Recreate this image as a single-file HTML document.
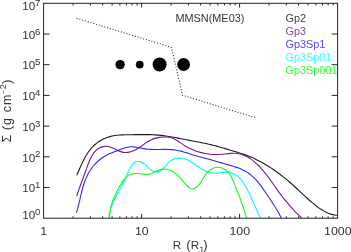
<!DOCTYPE html>
<html><head><meta charset="utf-8"><title>Surface density</title>
<style>html,body{margin:0;padding:0;background:#fff;}svg{display:block;}text{font-family:"Liberation Sans",sans-serif;}</style></head><body>
<svg width="351" height="252" viewBox="0 0 351 252">
<rect width="351" height="252" fill="#fff"/>
<defs><clipPath id="c"><rect x="43.60" y="3.30" width="294.00" height="214.90"/></clipPath></defs>
<g clip-path="url(#c)" fill="none" stroke-width="1.1" stroke-linejoin="round">
<path d="M76.71 175.37 C76.89 174.95 77.44 173.69 77.81 172.82 C78.19 171.96 78.56 171.07 78.95 170.17 C79.34 169.28 79.73 168.37 80.13 167.46 C80.53 166.55 80.94 165.62 81.36 164.70 C81.79 163.78 82.22 162.85 82.67 161.93 C83.12 161.01 83.58 160.09 84.07 159.18 C84.55 158.27 85.05 157.36 85.56 156.47 C86.08 155.57 86.62 154.69 87.18 153.82 C87.74 152.96 88.32 152.11 88.92 151.28 C89.53 150.45 90.16 149.64 90.81 148.86 C91.46 148.08 92.14 147.31 92.85 146.59 C93.55 145.86 94.28 145.16 95.03 144.50 C95.78 143.84 96.56 143.21 97.37 142.62 C98.17 142.02 98.99 141.47 99.84 140.95 C100.68 140.43 101.55 139.94 102.43 139.49 C103.31 139.04 104.21 138.62 105.12 138.24 C106.03 137.86 106.95 137.51 107.89 137.20 C108.82 136.89 109.77 136.61 110.72 136.37 C111.67 136.13 112.63 135.92 113.60 135.74 C114.56 135.57 115.53 135.43 116.50 135.31 C117.47 135.20 118.45 135.12 119.42 135.05 C120.40 134.98 121.38 134.94 122.36 134.90 C123.35 134.86 124.33 134.84 125.32 134.82 C126.31 134.80 127.30 134.78 128.30 134.77 C129.29 134.75 130.29 134.73 131.28 134.72 C132.28 134.70 133.28 134.69 134.28 134.67 C135.28 134.66 136.28 134.65 137.29 134.64 C138.29 134.63 139.30 134.62 140.30 134.61 C141.31 134.60 142.31 134.60 143.32 134.60 C144.33 134.60 145.34 134.60 146.35 134.61 C147.35 134.63 148.36 134.64 149.37 134.67 C150.38 134.69 151.39 134.73 152.40 134.77 C153.40 134.81 154.41 134.86 155.42 134.92 C156.43 134.98 157.43 135.05 158.44 135.14 C159.44 135.22 160.45 135.31 161.45 135.42 C162.45 135.52 163.46 135.64 164.46 135.77 C165.46 135.90 166.46 136.04 167.45 136.19 C168.45 136.35 169.45 136.51 170.44 136.69 C171.44 136.86 172.43 137.04 173.42 137.23 C174.41 137.41 175.40 137.60 176.39 137.80 C177.38 137.99 178.37 138.19 179.35 138.39 C180.34 138.58 181.33 138.78 182.31 138.98 C183.29 139.17 184.28 139.36 185.26 139.55 C186.24 139.74 187.22 139.93 188.20 140.12 C189.18 140.30 190.16 140.48 191.13 140.67 C192.11 140.85 193.09 141.03 194.06 141.22 C195.04 141.40 196.01 141.58 196.98 141.77 C197.96 141.96 198.93 142.14 199.90 142.33 C200.87 142.53 201.84 142.72 202.81 142.92 C203.78 143.12 204.75 143.32 205.72 143.53 C206.69 143.73 207.66 143.95 208.62 144.17 C209.59 144.39 210.56 144.62 211.52 144.85 C212.49 145.09 213.45 145.33 214.42 145.58 C215.38 145.84 216.35 146.10 217.31 146.37 C218.27 146.64 219.24 146.92 220.20 147.20 C221.16 147.47 222.12 147.76 223.08 148.04 C224.05 148.33 225.01 148.62 225.97 148.90 C226.93 149.18 227.89 149.46 228.85 149.74 C229.81 150.02 230.77 150.30 231.73 150.58 C232.69 150.86 233.64 151.13 234.60 151.42 C235.56 151.70 236.51 151.98 237.46 152.27 C238.42 152.56 239.37 152.86 240.31 153.16 C241.26 153.47 242.21 153.78 243.15 154.11 C244.09 154.43 245.03 154.77 245.97 155.12 C246.91 155.47 247.84 155.83 248.77 156.20 C249.70 156.58 250.63 156.97 251.55 157.37 C252.47 157.77 253.39 158.19 254.30 158.61 C255.21 159.04 256.12 159.48 257.02 159.92 C257.92 160.37 258.82 160.83 259.71 161.30 C260.60 161.77 261.49 162.25 262.37 162.74 C263.25 163.23 264.12 163.73 264.99 164.24 C265.85 164.74 266.71 165.26 267.56 165.79 C268.42 166.31 269.26 166.84 270.10 167.39 C270.95 167.93 271.78 168.48 272.61 169.04 C273.44 169.59 274.26 170.16 275.07 170.73 C275.89 171.30 276.70 171.88 277.50 172.47 C278.31 173.06 279.11 173.65 279.90 174.25 C280.70 174.85 281.48 175.46 282.27 176.08 C283.05 176.69 283.83 177.31 284.61 177.94 C285.38 178.57 286.15 179.20 286.91 179.84 C287.68 180.48 288.44 181.12 289.19 181.77 C289.95 182.42 290.70 183.07 291.45 183.73 C292.20 184.39 292.94 185.06 293.68 185.73 C294.42 186.40 295.16 187.07 295.89 187.75 C296.62 188.43 297.35 189.11 298.08 189.79 C298.81 190.48 299.54 191.16 300.27 191.85 C301.00 192.53 301.73 193.22 302.46 193.91 C303.19 194.59 303.92 195.27 304.65 195.96 C305.39 196.64 306.12 197.32 306.87 197.99 C307.61 198.66 308.35 199.33 309.10 200.00 C309.85 200.66 310.61 201.32 311.37 201.97 C312.14 202.62 312.90 203.27 313.68 203.91 C314.46 204.54 315.24 205.17 316.04 205.79 C316.83 206.40 317.64 207.01 318.45 207.60 C319.27 208.18 320.09 208.76 320.93 209.30 C321.77 209.85 322.62 210.37 323.48 210.87 C324.35 211.36 325.22 211.83 326.12 212.26 C327.01 212.68 327.91 213.08 328.84 213.43 C329.76 213.79 330.70 214.10 331.65 214.37 C332.61 214.63 333.60 214.85 334.57 215.02 C335.55 215.18 337.01 215.29 337.50 215.34" stroke="#1c1c1c"/>
<path d="M76.71 196.14 C76.86 195.67 77.31 194.23 77.63 193.28 C77.94 192.33 78.26 191.39 78.58 190.44 C78.91 189.50 79.24 188.55 79.58 187.61 C79.91 186.67 80.26 185.73 80.60 184.79 C80.94 183.85 81.29 182.91 81.64 181.98 C81.98 181.04 82.33 180.10 82.68 179.16 C83.03 178.23 83.38 177.29 83.73 176.36 C84.07 175.42 84.42 174.48 84.76 173.55 C85.10 172.61 85.44 171.67 85.77 170.73 C86.11 169.79 86.43 168.85 86.77 167.91 C87.10 166.97 87.43 166.03 87.77 165.10 C88.12 164.16 88.47 163.23 88.85 162.30 C89.22 161.37 89.61 160.45 90.03 159.54 C90.46 158.62 90.90 157.71 91.39 156.82 C91.88 155.93 92.39 155.02 92.96 154.17 C93.53 153.31 94.14 152.45 94.80 151.69 C95.47 150.92 96.19 150.21 96.96 149.59 C97.72 148.97 98.55 148.42 99.40 147.97 C100.25 147.53 101.15 147.16 102.07 146.89 C102.98 146.62 103.93 146.44 104.88 146.37 C105.83 146.29 106.81 146.31 107.78 146.44 C108.74 146.58 109.72 146.83 110.68 147.15 C111.65 147.47 112.61 147.92 113.57 148.36 C114.52 148.80 115.48 149.32 116.43 149.78 C117.39 150.24 118.34 150.74 119.29 151.13 C120.24 151.52 121.19 151.88 122.14 152.11 C123.09 152.34 124.04 152.47 124.99 152.52 C125.94 152.56 126.88 152.51 127.83 152.38 C128.77 152.26 129.71 152.05 130.63 151.78 C131.56 151.51 132.49 151.17 133.40 150.78 C134.32 150.40 135.23 149.95 136.12 149.47 C137.01 148.99 137.90 148.45 138.77 147.90 C139.64 147.36 140.49 146.76 141.34 146.18 C142.19 145.59 143.03 144.97 143.86 144.38 C144.70 143.78 145.53 143.18 146.36 142.61 C147.20 142.05 148.03 141.49 148.88 140.99 C149.73 140.50 150.58 140.03 151.46 139.63 C152.33 139.23 153.21 138.90 154.12 138.61 C155.03 138.32 155.95 138.10 156.91 137.89 C157.87 137.68 158.86 137.50 159.86 137.36 C160.86 137.22 161.89 137.09 162.92 137.03 C163.94 136.97 164.99 136.94 166.01 136.98 C167.03 137.02 168.05 137.11 169.04 137.29 C170.03 137.47 170.99 137.72 171.93 138.04 C172.86 138.37 173.76 138.78 174.65 139.23 C175.53 139.68 176.39 140.20 177.25 140.72 C178.10 141.25 178.94 141.83 179.78 142.39 C180.62 142.96 181.45 143.55 182.29 144.11 C183.14 144.67 183.98 145.22 184.84 145.75 C185.71 146.27 186.58 146.77 187.45 147.25 C188.33 147.72 189.22 148.18 190.12 148.61 C191.01 149.04 191.92 149.44 192.83 149.83 C193.74 150.21 194.67 150.57 195.59 150.91 C196.52 151.24 197.46 151.56 198.40 151.84 C199.34 152.13 200.29 152.40 201.25 152.64 C202.20 152.89 203.17 153.11 204.13 153.30 C205.10 153.50 206.08 153.67 207.05 153.82 C208.03 153.97 209.02 154.09 210.01 154.19 C211.00 154.29 211.99 154.37 212.99 154.43 C213.98 154.48 214.99 154.51 215.99 154.52 C217.00 154.52 218.01 154.51 219.02 154.47 C220.03 154.43 221.05 154.36 222.06 154.27 C223.08 154.19 224.10 154.08 225.12 153.97 C226.14 153.87 227.16 153.75 228.17 153.65 C229.19 153.55 230.20 153.46 231.21 153.40 C232.21 153.34 233.22 153.30 234.21 153.31 C235.21 153.32 236.20 153.36 237.17 153.48 C238.15 153.59 239.12 153.76 240.08 153.99 C241.03 154.22 241.98 154.53 242.91 154.87 C243.83 155.22 244.75 155.63 245.65 156.07 C246.55 156.51 247.43 157.01 248.29 157.52 C249.15 158.03 250.00 158.58 250.82 159.15 C251.64 159.72 252.44 160.31 253.22 160.92 C254.01 161.53 254.77 162.17 255.52 162.82 C256.27 163.47 257.00 164.14 257.71 164.82 C258.43 165.51 259.13 166.21 259.81 166.93 C260.50 167.64 261.17 168.38 261.83 169.12 C262.50 169.87 263.14 170.62 263.78 171.39 C264.42 172.16 265.05 172.94 265.67 173.73 C266.29 174.51 266.90 175.31 267.51 176.11 C268.12 176.91 268.71 177.73 269.31 178.54 C269.90 179.35 270.49 180.17 271.08 181.00 C271.66 181.82 272.24 182.64 272.82 183.47 C273.40 184.30 273.98 185.12 274.56 185.95 C275.14 186.78 275.72 187.60 276.30 188.42 C276.88 189.24 277.46 190.06 278.05 190.88 C278.63 191.69 279.22 192.50 279.82 193.30 C280.41 194.11 281.01 194.90 281.61 195.70 C282.21 196.49 282.82 197.28 283.43 198.06 C284.05 198.84 284.67 199.62 285.29 200.39 C285.91 201.16 286.54 201.92 287.18 202.68 C287.82 203.44 288.46 204.20 289.11 204.95 C289.76 205.70 290.42 206.44 291.08 207.18 C291.75 207.92 292.42 208.65 293.10 209.38 C293.78 210.11 294.46 210.83 295.16 211.55 C295.86 212.27 296.56 212.98 297.28 213.69 C297.99 214.40 298.71 215.10 299.45 215.80 C300.18 216.50 301.28 217.51 301.67 217.88 C302.06 218.24 301.76 217.96 301.78 217.97" stroke="#701c8e"/>
<path d="M76.38 212.85 C76.52 212.39 76.97 211.01 77.25 210.07 C77.53 209.13 77.79 208.18 78.04 207.22 C78.29 206.27 78.53 205.30 78.77 204.33 C79.00 203.37 79.23 202.39 79.46 201.41 C79.68 200.43 79.90 199.45 80.13 198.46 C80.35 197.48 80.57 196.49 80.80 195.50 C81.03 194.52 81.26 193.53 81.50 192.54 C81.74 191.56 81.98 190.58 82.24 189.60 C82.50 188.62 82.77 187.64 83.06 186.67 C83.34 185.70 83.64 184.74 83.96 183.78 C84.28 182.83 84.61 181.88 84.96 180.94 C85.32 180.00 85.69 179.07 86.08 178.15 C86.48 177.23 86.89 176.32 87.33 175.43 C87.76 174.54 88.22 173.66 88.70 172.80 C89.19 171.93 89.69 171.08 90.23 170.25 C90.76 169.42 91.32 168.60 91.91 167.81 C92.49 167.01 93.11 166.24 93.75 165.48 C94.39 164.73 95.07 163.99 95.76 163.28 C96.46 162.57 97.18 161.88 97.92 161.22 C98.67 160.56 99.43 159.92 100.22 159.30 C101.01 158.69 101.81 158.10 102.64 157.54 C103.46 156.99 104.31 156.45 105.16 155.95 C106.02 155.45 106.90 154.98 107.78 154.54 C108.67 154.10 109.57 153.69 110.48 153.30 C111.39 152.91 112.31 152.55 113.23 152.19 C114.16 151.83 115.10 151.48 116.04 151.12 C116.98 150.77 117.93 150.40 118.88 150.03 C119.83 149.67 120.78 149.28 121.74 148.93 C122.70 148.58 123.66 148.23 124.62 147.94 C125.59 147.65 126.56 147.38 127.53 147.20 C128.50 147.01 129.47 146.87 130.45 146.82 C131.43 146.77 132.41 146.81 133.39 146.89 C134.37 146.97 135.35 147.13 136.34 147.29 C137.32 147.46 138.31 147.67 139.30 147.86 C140.29 148.04 141.28 148.24 142.27 148.41 C143.27 148.59 144.26 148.75 145.25 148.88 C146.25 149.02 147.24 149.12 148.24 149.21 C149.24 149.29 150.23 149.35 151.23 149.39 C152.23 149.43 153.22 149.45 154.22 149.47 C155.22 149.48 156.21 149.48 157.21 149.48 C158.21 149.47 159.20 149.46 160.20 149.45 C161.19 149.44 162.19 149.42 163.18 149.42 C164.18 149.41 165.17 149.41 166.16 149.42 C167.15 149.43 168.14 149.45 169.13 149.49 C170.12 149.53 171.11 149.58 172.09 149.66 C173.07 149.74 174.06 149.84 175.04 149.97 C176.02 150.11 176.99 150.27 177.97 150.46 C178.94 150.65 179.92 150.88 180.89 151.12 C181.86 151.36 182.83 151.64 183.79 151.92 C184.76 152.20 185.72 152.50 186.69 152.81 C187.65 153.11 188.61 153.43 189.57 153.75 C190.54 154.06 191.49 154.38 192.45 154.69 C193.41 155.00 194.37 155.30 195.33 155.59 C196.29 155.88 197.25 156.15 198.21 156.42 C199.17 156.68 200.13 156.93 201.09 157.18 C202.05 157.43 203.01 157.66 203.97 157.91 C204.93 158.16 205.89 158.40 206.85 158.66 C207.82 158.91 208.78 159.18 209.75 159.45 C210.72 159.73 211.69 160.02 212.66 160.30 C213.63 160.59 214.60 160.88 215.57 161.16 C216.55 161.45 217.53 161.73 218.50 162.01 C219.48 162.29 220.46 162.57 221.44 162.85 C222.41 163.13 223.39 163.41 224.36 163.69 C225.34 163.96 226.31 164.24 227.27 164.53 C228.24 164.81 229.21 165.09 230.16 165.38 C231.12 165.66 232.08 165.95 233.02 166.24 C233.97 166.53 234.91 166.83 235.84 167.13 C236.77 167.44 237.69 167.75 238.61 168.09 C239.52 168.43 240.42 168.78 241.32 169.16 C242.21 169.55 243.09 169.96 243.96 170.42 C244.83 170.87 245.69 171.36 246.53 171.89 C247.37 172.41 248.20 172.97 249.01 173.56 C249.82 174.15 250.61 174.77 251.39 175.42 C252.16 176.06 252.91 176.74 253.65 177.43 C254.38 178.12 255.09 178.84 255.78 179.58 C256.47 180.31 257.14 181.07 257.79 181.84 C258.44 182.61 259.06 183.40 259.68 184.19 C260.30 184.99 260.89 185.80 261.48 186.61 C262.08 187.43 262.65 188.25 263.22 189.08 C263.80 189.91 264.36 190.74 264.92 191.57 C265.48 192.40 266.03 193.23 266.59 194.06 C267.15 194.89 267.70 195.71 268.26 196.53 C268.81 197.36 269.37 198.18 269.92 199.00 C270.47 199.82 271.02 200.63 271.57 201.46 C272.11 202.28 272.66 203.10 273.19 203.93 C273.73 204.76 274.27 205.59 274.79 206.42 C275.32 207.26 275.85 208.11 276.36 208.96 C276.87 209.81 277.38 210.67 277.88 211.54 C278.38 212.41 278.87 213.29 279.35 214.18 C279.84 215.08 280.44 216.25 280.77 216.90 C281.10 217.55 281.26 217.88 281.35 218.08" stroke="#3626ff"/>
<path d="M109.32 218.05 C109.36 217.54 109.44 215.99 109.56 214.98 C109.69 213.98 109.86 212.98 110.06 212.00 C110.26 211.02 110.50 210.05 110.77 209.09 C111.04 208.13 111.35 207.18 111.68 206.24 C112.01 205.30 112.37 204.37 112.74 203.45 C113.12 202.53 113.53 201.62 113.95 200.71 C114.36 199.80 114.80 198.90 115.25 198.00 C115.70 197.11 116.16 196.22 116.63 195.33 C117.10 194.44 117.58 193.56 118.06 192.68 C118.54 191.80 119.02 190.92 119.50 190.04 C119.98 189.16 120.46 188.28 120.93 187.40 C121.40 186.52 121.87 185.64 122.32 184.76 C122.77 183.88 123.21 183.00 123.63 182.11 C124.06 181.22 124.46 180.33 124.86 179.43 C125.27 178.54 125.65 177.64 126.05 176.73 C126.44 175.83 126.83 174.92 127.24 174.00 C127.64 173.08 128.05 172.16 128.48 171.23 C128.91 170.30 129.35 169.35 129.83 168.42 C130.31 167.48 130.79 166.48 131.36 165.63 C131.94 164.78 132.55 163.92 133.27 163.30 C134.00 162.67 134.85 162.19 135.71 161.89 C136.58 161.59 137.55 161.46 138.47 161.50 C139.38 161.54 140.33 161.77 141.21 162.12 C142.09 162.47 142.93 163.03 143.76 163.61 C144.59 164.20 145.38 164.94 146.18 165.64 C146.98 166.34 147.76 167.13 148.57 167.83 C149.37 168.53 150.17 169.25 151.02 169.84 C151.86 170.43 152.73 170.99 153.62 171.36 C154.50 171.74 155.44 172.03 156.33 172.07 C157.22 172.12 158.12 171.95 158.97 171.62 C159.82 171.29 160.64 170.69 161.42 170.09 C162.19 169.49 162.92 168.76 163.64 168.04 C164.35 167.32 165.03 166.53 165.72 165.77 C166.41 165.01 167.08 164.21 167.79 163.48 C168.50 162.75 169.20 162.02 169.97 161.39 C170.73 160.76 171.52 160.16 172.37 159.70 C173.23 159.23 174.16 158.86 175.12 158.60 C176.07 158.34 177.11 158.19 178.12 158.13 C179.13 158.06 180.17 158.10 181.17 158.21 C182.18 158.32 183.17 158.52 184.13 158.78 C185.10 159.03 186.05 159.37 186.97 159.74 C187.90 160.12 188.80 160.56 189.69 161.02 C190.57 161.49 191.44 162.01 192.28 162.54 C193.13 163.07 193.95 163.63 194.77 164.20 C195.59 164.77 196.39 165.36 197.20 165.93 C198.01 166.50 198.81 167.09 199.64 167.64 C200.47 168.20 201.30 168.75 202.17 169.25 C203.03 169.76 203.92 170.25 204.82 170.69 C205.73 171.12 206.65 171.53 207.59 171.87 C208.53 172.21 209.49 172.50 210.46 172.72 C211.43 172.94 212.41 173.11 213.40 173.19 C214.38 173.27 215.38 173.25 216.38 173.20 C217.38 173.14 218.38 172.99 219.39 172.86 C220.39 172.73 221.40 172.54 222.39 172.42 C223.39 172.30 224.39 172.16 225.38 172.13 C226.36 172.10 227.35 172.11 228.31 172.24 C229.28 172.36 230.24 172.58 231.17 172.88 C232.10 173.18 233.02 173.56 233.91 174.01 C234.79 174.46 235.66 174.99 236.48 175.56 C237.30 176.14 238.10 176.78 238.84 177.46 C239.59 178.14 240.29 178.88 240.96 179.65 C241.62 180.42 242.23 181.23 242.82 182.05 C243.40 182.88 243.95 183.74 244.48 184.61 C245.01 185.48 245.50 186.37 245.99 187.25 C246.49 188.13 246.96 189.02 247.43 189.91 C247.89 190.80 248.34 191.69 248.79 192.58 C249.24 193.48 249.67 194.37 250.10 195.27 C250.53 196.16 250.95 197.06 251.36 197.96 C251.78 198.86 252.19 199.76 252.60 200.66 C253.01 201.56 253.41 202.46 253.81 203.37 C254.22 204.27 254.61 205.18 255.02 206.09 C255.42 207.00 255.82 207.91 256.22 208.82 C256.63 209.73 257.03 210.64 257.44 211.56 C257.85 212.47 258.27 213.39 258.69 214.31 C259.11 215.22 259.67 216.42 259.97 217.06 C260.27 217.70 260.40 217.96 260.48 218.14" stroke="#00f8ff"/>
<path d="M108.92 218.05 C108.97 217.53 109.12 215.98 109.26 214.96 C109.40 213.94 109.56 212.94 109.75 211.95 C109.93 210.96 110.13 209.98 110.36 209.01 C110.58 208.04 110.83 207.08 111.10 206.13 C111.36 205.18 111.65 204.24 111.95 203.30 C112.26 202.37 112.58 201.44 112.92 200.52 C113.27 199.59 113.63 198.68 114.00 197.77 C114.38 196.85 114.77 195.95 115.18 195.04 C115.59 194.14 116.02 193.24 116.46 192.33 C116.90 191.43 117.36 190.54 117.83 189.64 C118.30 188.74 118.79 187.84 119.28 186.94 C119.78 186.04 120.29 185.12 120.82 184.24 C121.35 183.35 121.90 182.46 122.48 181.62 C123.06 180.78 123.65 179.96 124.29 179.20 C124.93 178.44 125.59 177.72 126.31 177.08 C127.02 176.44 127.77 175.86 128.57 175.37 C129.38 174.89 130.22 174.49 131.13 174.19 C132.04 173.90 133.01 173.73 134.00 173.62 C135.00 173.51 136.06 173.51 137.10 173.54 C138.14 173.57 139.22 173.68 140.27 173.77 C141.31 173.87 142.35 174.03 143.36 174.13 C144.36 174.23 145.34 174.36 146.31 174.38 C147.27 174.39 148.22 174.39 149.15 174.23 C150.09 174.07 151.01 173.78 151.93 173.41 C152.85 173.05 153.75 172.50 154.67 172.04 C155.59 171.58 156.50 171.07 157.43 170.67 C158.36 170.26 159.28 169.86 160.23 169.60 C161.19 169.34 162.15 169.15 163.13 169.08 C164.11 169.02 165.11 169.08 166.09 169.22 C167.07 169.35 168.06 169.60 169.01 169.91 C169.97 170.23 170.91 170.63 171.80 171.09 C172.70 171.55 173.55 172.08 174.36 172.66 C175.17 173.23 175.93 173.87 176.67 174.52 C177.41 175.18 178.11 175.89 178.81 176.60 C179.50 177.32 180.17 178.07 180.84 178.81 C181.52 179.55 182.19 180.31 182.87 181.06 C183.55 181.82 184.23 182.58 184.93 183.34 C185.63 184.11 186.33 184.90 187.07 185.65 C187.81 186.40 188.56 187.30 189.36 187.85 C190.15 188.41 190.98 188.86 191.82 188.98 C192.66 189.10 193.54 188.89 194.37 188.57 C195.19 188.24 196.02 187.65 196.77 187.03 C197.52 186.40 198.24 185.60 198.90 184.82 C199.55 184.04 200.15 183.20 200.72 182.36 C201.30 181.52 201.82 180.64 202.36 179.78 C202.90 178.92 203.40 178.04 203.94 177.19 C204.49 176.34 205.02 175.49 205.61 174.68 C206.20 173.87 206.81 173.08 207.50 172.35 C208.19 171.62 208.93 170.91 209.74 170.29 C210.54 169.67 211.42 169.09 212.31 168.64 C213.21 168.19 214.16 167.81 215.11 167.57 C216.06 167.34 217.05 167.23 218.02 167.25 C218.98 167.26 219.96 167.42 220.90 167.66 C221.84 167.91 222.78 168.28 223.66 168.72 C224.54 169.17 225.39 169.72 226.17 170.33 C226.95 170.94 227.67 171.64 228.33 172.38 C228.99 173.12 229.57 173.93 230.11 174.77 C230.66 175.61 231.14 176.51 231.61 177.41 C232.08 178.32 232.50 179.26 232.91 180.20 C233.33 181.14 233.72 182.09 234.11 183.04 C234.51 183.98 234.89 184.92 235.28 185.85 C235.66 186.79 236.04 187.72 236.41 188.65 C236.78 189.58 237.14 190.51 237.51 191.44 C237.87 192.37 238.22 193.29 238.58 194.22 C238.93 195.15 239.28 196.07 239.62 197.00 C239.96 197.92 240.30 198.85 240.63 199.78 C240.97 200.71 241.30 201.64 241.62 202.57 C241.95 203.50 242.27 204.44 242.58 205.38 C242.90 206.32 243.21 207.26 243.52 208.21 C243.83 209.16 244.14 210.11 244.44 211.07 C244.74 212.03 245.04 212.99 245.33 213.96 C245.63 214.93 246.00 216.19 246.20 216.89 C246.41 217.59 246.51 217.95 246.57 218.16" stroke="#0cff0c"/>
</g>
<polyline points="76.6,18.2 171.5,47.4 182.5,95.2 255.8,117.8" fill="none" stroke="#2a2a2a" stroke-width="1.1" stroke-dasharray="1 1.9"/>
<circle cx="120.1" cy="64.6" r="4.70" fill="#000"/>
<circle cx="139.7" cy="64.6" r="3.90" fill="#000"/>
<circle cx="159.6" cy="64.5" r="7.00" fill="#000"/>
<circle cx="183.6" cy="64.5" r="6.40" fill="#000"/>
<rect x="43.60" y="3.30" width="294.00" height="214.90" fill="none" stroke="#222" stroke-width="1"/>
<path d="M73.10 218.20 v-1.9 M73.10 3.30 v2.2 M90.36 218.20 v-1.9 M90.36 3.30 v2.2 M102.60 218.20 v-1.9 M102.60 3.30 v2.2 M112.10 218.20 v-1.9 M112.10 3.30 v2.2 M119.86 218.20 v-1.9 M119.86 3.30 v2.2 M126.42 218.20 v-1.9 M126.42 3.30 v2.2 M132.10 218.20 v-1.9 M132.10 3.30 v2.2 M137.12 218.20 v-1.9 M137.12 3.30 v2.2 M141.60 218.20 v-4.3 M141.60 3.30 v4.3 M171.10 218.20 v-1.9 M171.10 3.30 v2.2 M188.36 218.20 v-1.9 M188.36 3.30 v2.2 M200.60 218.20 v-1.9 M200.60 3.30 v2.2 M210.10 218.20 v-1.9 M210.10 3.30 v2.2 M217.86 218.20 v-1.9 M217.86 3.30 v2.2 M224.42 218.20 v-1.9 M224.42 3.30 v2.2 M230.10 218.20 v-1.9 M230.10 3.30 v2.2 M235.12 218.20 v-1.9 M235.12 3.30 v2.2 M239.60 218.20 v-4.3 M239.60 3.30 v4.3 M269.10 218.20 v-1.9 M269.10 3.30 v2.2 M286.36 218.20 v-1.9 M286.36 3.30 v2.2 M298.60 218.20 v-1.9 M298.60 3.30 v2.2 M308.10 218.20 v-1.9 M308.10 3.30 v2.2 M315.86 218.20 v-1.9 M315.86 3.30 v2.2 M322.42 218.20 v-1.9 M322.42 3.30 v2.2 M328.10 218.20 v-1.9 M328.10 3.30 v2.2 M333.12 218.20 v-1.9 M333.12 3.30 v2.2 M43.60 187.50 h5.9 M337.60 187.50 h-5.9 M43.60 156.80 h5.9 M337.60 156.80 h-5.9 M43.60 126.10 h5.9 M337.60 126.10 h-5.9 M43.60 95.40 h5.9 M337.60 95.40 h-5.9 M43.60 64.70 h5.9 M337.60 64.70 h-5.9 M43.60 34.00 h5.9 M337.60 34.00 h-5.9" stroke="#222" stroke-width="1" fill="none"/>
<text transform="translate(43.8,234.9) scale(1.07,1)" font-size="11.6" text-anchor="middle" fill="#333">1</text>
<text transform="translate(141.8,234.9) scale(1.07,1)" font-size="11.6" text-anchor="middle" fill="#333">10</text>
<text transform="translate(239.8,234.9) scale(1.07,1)" font-size="11.6" text-anchor="middle" fill="#333">100</text>
<text transform="translate(337.8,234.9) scale(1.07,1)" font-size="11.6" text-anchor="middle" fill="#333">1000</text>
<text x="22.2" y="218.7" font-size="11.6" fill="#333">10</text><text transform="translate(35,214.6) scale(1.16,1)" font-size="8.3" fill="#333">0</text>
<text x="22.2" y="192.2" font-size="11.6" fill="#333">10</text><text transform="translate(35,188.1) scale(1.16,1)" font-size="8.3" fill="#333">1</text>
<text x="22.2" y="161.5" font-size="11.6" fill="#333">10</text><text transform="translate(35,157.4) scale(1.16,1)" font-size="8.3" fill="#333">2</text>
<text x="22.2" y="130.8" font-size="11.6" fill="#333">10</text><text transform="translate(35,126.7) scale(1.16,1)" font-size="8.3" fill="#333">3</text>
<text x="22.2" y="100.1" font-size="11.6" fill="#333">10</text><text transform="translate(35,96.0) scale(1.16,1)" font-size="8.3" fill="#333">4</text>
<text x="22.2" y="69.4" font-size="11.6" fill="#333">10</text><text transform="translate(35,65.3) scale(1.16,1)" font-size="8.3" fill="#333">5</text>
<text x="22.2" y="38.7" font-size="11.6" fill="#333">10</text><text transform="translate(35,34.6) scale(1.16,1)" font-size="8.3" fill="#333">6</text>
<text x="22.2" y="10.2" font-size="11.6" fill="#333">10</text><text transform="translate(35,6.1) scale(1.16,1)" font-size="8.3" fill="#333">7</text>
<text y="248.6" font-size="11.6" fill="#333"><tspan x="172.65">R</tspan><tspan x="183"> </tspan><tspan x="186.2" font-size="13.3">(</tspan><tspan x="190.85">R</tspan><tspan x="198.55" font-size="9" dy="4.6">J</tspan><tspan x="203.27" dy="-4.6" font-size="13.3">)</tspan></text>
<text transform="translate(11.4,142) rotate(-90)" font-size="12.5" fill="#333"><tspan x="-0.55">Σ</tspan><tspan x="8"> </tspan><tspan x="11.8" dy="-0.3" font-size="13.5">(</tspan><tspan x="17.1" dy="0.3">g</tspan><tspan x="25"> </tspan><tspan x="29.75">c</tspan><tspan x="37.1">m</tspan><tspan x="47.7" font-size="7" dy="-5.6">−</tspan><tspan x="52.7" font-size="9" dy="0.2">2</tspan><tspan x="57.9" dy="5.1" font-size="13.5">)</tspan></text>
<text x="175.4" y="22" font-size="10.9" fill="#333">MMSN(ME03)</text>
<text transform="translate(285.45,21.7) scale(1.048,1)" font-size="10.4" fill="#404040">Gp2</text>
<text transform="translate(285.45,34.7) scale(1.048,1)" font-size="10.4" fill="#92449f">Gp3</text>
<text transform="translate(285.45,47.8) scale(1.048,1)" font-size="10.4" fill="#5546ff">Gp3Sp1</text>
<text transform="translate(285.45,60.8) scale(1.048,1)" font-size="10.4" fill="#30ffff">Gp3Sp01</text>
<text transform="translate(285.45,73.8) scale(1.048,1)" font-size="10.4" fill="#30ff30">Gp3Sp001</text>
</svg></body></html>
